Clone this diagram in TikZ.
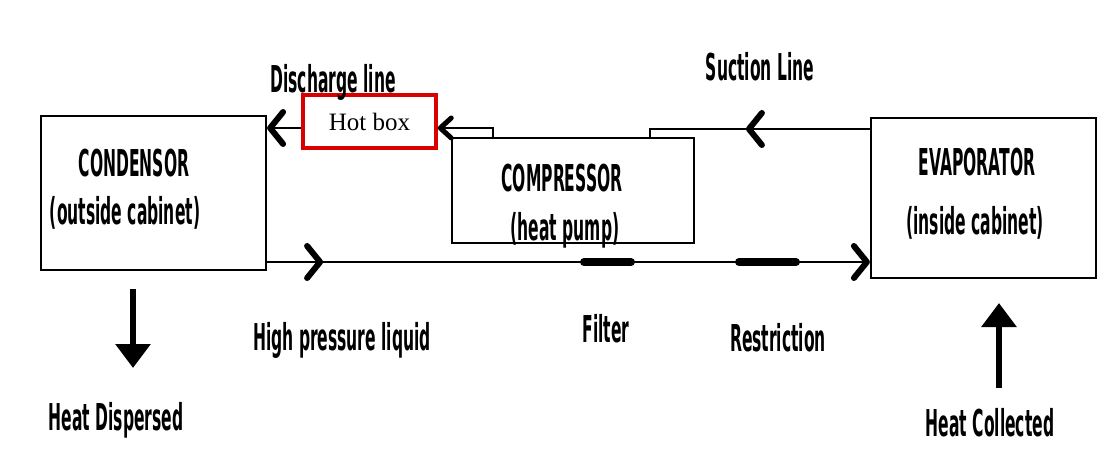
\documentclass[tikz,border=0pt]{standalone}
\usepackage{fontspec}
\usetikzlibrary{arrows.meta,decorations.markings}
\newfontfamily\cond[FakeStretch=0.42]{DejaVu Sans Bold}
\newfontfamily\hotfont{Liberation Serif}
\tikzset{
  box/.style={draw, line width=2.2pt, minimum width=#1, inner sep=0pt},
  lbl/.style={font=\cond\fontsize{37}{40}\selectfont, inner sep=0pt, anchor=center},
  pipe/.style={line width=2.4pt},
  chev/.tip={Straight Barb[length=13pt,width=32pt,line width=6pt 0 1,round]},
  chevs/.tip={Straight Barb[length=11pt,width=20pt,line width=5pt 0 1,round]},
  midarrow/.style 2 args={postaction={decorate}, decoration={markings, mark=at position #1 with {\arrow{#2}}}},
  plug/.style={line width=8pt, line cap=round},
  heat/.style={line width=6pt, -{Triangle[length=24pt,width=34pt]}}
}
\begin{document}
\begin{tikzpicture}[x=1pt,y=-1pt]
\useasboundingbox[fill=white] (0,0) rectangle (1104,463);
% boxes
\node[box=225pt, minimum height=154pt] (cond) at (153.5,193) {};
\node[box=242pt, minimum height=105pt] (comp) at (573,190.5) {};
\node[box=225pt, minimum height=160pt] (evap) at (983.5,198) {};
\node[draw=red!85!black, line width=3.5pt, minimum width=133pt, minimum height=53pt, inner sep=0pt, font=\hotfont\fontsize{25}{28}\selectfont] (hot) at (369.5,121.5) {Hot box};
% box texts
\node[lbl] (t1) at (134,163) {CONDENSOR};
\node[lbl] (t2) at (125,213) {(outside cabinet)};
\node[lbl] (t3) at (562,178) {COMPRESSOR};
\node[lbl] (t4) at (565,230) {(heat pump)};
\node[lbl] (t5) at (977,162) {EVAPORATOR};
\node[lbl] (t6) at (975,223) {(inside cabinet)};
% labels
\node[lbl] (dl) at (333,82) {Discharge line};
\node[lbl] (sl) at (760,67) {Suction Line};
\node[lbl] (hp) at (342,340) {High pressure liquid};
\node[lbl] (fl) at (606,329) {Filter};
\node[lbl] (rs) at (778,338) {Restriction};
\node[lbl] (hd) at (116,420) {Heat Dispersed};
\node[lbl] (hc) at (990,423) {Heat Collected};
% coordinates
\coordinate (cout) at (493,138);
\coordinate (cbend) at (493,128);
\coordinate (sin) at (650,138);
\coordinate (sbend) at (650,129);
\coordinate (lstart) at (266,262);
\coordinate (lend) at (871,262);
% discharge line
\draw[pipe, -{chevs}] (cout) -- (cbend) -- (hot.east |- cbend);
\draw[pipe, -{chev}] (hot.west |- 0,128) -- (cond.east |- 0,128);
% suction line
\draw[pipe, midarrow={124pt}{chev}] (evap.west |- sbend) -- (sbend) -- (sin);
% liquid line
\draw[pipe, midarrow={56pt}{chev}, -{chev}] (cond.east |- lstart) -- (evap.west |- lend);
\coordinate (fa) at (584,262); \coordinate (fb) at (631,262);
\coordinate (ra) at (739,262); \coordinate (rb) at (796,262);
\draw[plug] (fa) -- (fb);
\draw[plug] (ra) -- (rb);
% heat arrows
\coordinate (hda) at (133,289); \coordinate (hdb) at (133,368);
\coordinate (hca) at (999,388); \coordinate (hcb) at (999,303);
\draw[heat] (hda) -- (hdb);
\draw[heat] (hca) -- (hcb);
\end{tikzpicture}
\end{document}
